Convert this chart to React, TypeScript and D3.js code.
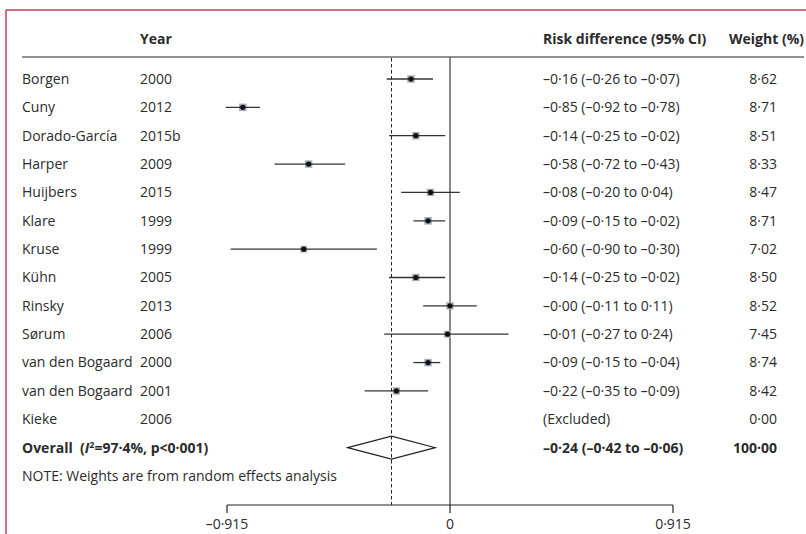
import React from "react";
import * as d3 from "d3";

const studies = ["Borgen", "Cuny", "Dorado-García", "Harper", "Huijbers", "Klare", "Kruse", "Kühn", "Rinsky", "Sørum", "van den Bogaard", "van den Bogaard", "Kieke"];
const years = ["2000", "2012", "2015b", "2009", "2015", "1999", "1999", "2005", "2013", "2006", "2000", "2001", "2006"];
const estimates: (number | null)[] = [-0.16, -0.85, -0.14, -0.58, -0.08, -0.09, -0.6, -0.14, -0.0, -0.01, -0.09, -0.22, null];
const lowers: (number | null)[] = [-0.26, -0.92, -0.25, -0.72, -0.2, -0.15, -0.9, -0.25, -0.11, -0.27, -0.15, -0.35, null];
const uppers: (number | null)[] = [-0.07, -0.78, -0.02, -0.43, 0.04, -0.02, -0.3, -0.02, 0.11, 0.24, -0.04, -0.09, null];
const ciLabels = ["–0·16 (–0·26 to –0·07)", "–0·85 (–0·92 to –0·78)", "–0·14 (–0·25 to –0·02)", "–0·58 (–0·72 to –0·43)", "–0·08 (–0·20 to 0·04)", "–0·09 (–0·15 to –0·02)", "–0·60 (–0·90 to –0·30)", "–0·14 (–0·25 to –0·02)", "–0·00 (–0·11 to 0·11)", "–0·01 (–0·27 to 0·24)", "–0·09 (–0·15 to –0·04)", "–0·22 (–0·35 to –0·09)", "(Excluded)"];
const weights = [8.62, 8.71, 8.51, 8.33, 8.47, 8.71, 7.02, 8.5, 8.52, 7.45, 8.74, 8.42, 0.0];
const weightLabels = ["8·62", "8·71", "8·51", "8·33", "8·47", "8·71", "7·02", "8·50", "8·52", "7·45", "8·74", "8·42", "0·00"];
const overall = { est: -0.24, lo: -0.42, hi: -0.06, label: "–0·24 (–0·42 to –0·06)", weight: "100·00" };
const tickValues = [-0.915, 0, 0.915];
const tickLabels = ["–0·915", "0", "0·915"];

const FONT = "'Open Sans', sans-serif";
const TEXT = "#2b2b2b";
const FS = 14;

export default function App() {
  const W = 806, H = 534;
  const x = d3.scaleLinear().domain([-0.915, 0.915]).range([227, 673]);
  const nRows = studies.length + 2; // studies + overall + note
  const y = d3.scalePoint<number>().domain(d3.range(nRows)).range([79, 476]);
  const sq = d3.scaleSqrt().domain([0, 8.74]).range([0, 7.5]);
  const axisY = 505;
  const headerLineY = 57;
  const overallRow = studies.length;
  const noteRow = studies.length + 1;
  const yo = y(overallRow)!;
  const diamond = d3.line()([
    [x(overall.lo), yo],
    [x(overall.est), yo - 11.5],
    [x(overall.hi), yo],
    [x(overall.est), yo + 11.5],
  ]) + "Z";

  return (
    <svg width={W} height={H} style={{ position: "absolute", left: 0, top: 0, background: "#fff" }} fontFamily={FONT}>
      {/* frame */}
      <line x1={6} x2={806} y1={10} y2={10} stroke="#c8385f" strokeWidth={1.5} />
      <line x1={6} x2={6} y1={10} y2={534} stroke="#c8385f" strokeWidth={1.5} />

      {/* headers */}
      <g fontWeight="bold" fontSize={FS} fill={TEXT}>
        <text x={140} y={44}>Year</text>
        <text x={543} y={44}>Risk difference (95% CI)</text>
        <text x={804} y={44} textAnchor="end">Weight (%)</text>
      </g>
      <line x1={22} x2={804} y1={headerLineY} y2={headerLineY} stroke="#222" strokeWidth={1.2} />

      {/* reference lines */}
      <line x1={x(0)} x2={x(0)} y1={headerLineY} y2={axisY} stroke="#555" strokeWidth={1.4} />
      <line x1={x(overall.est)} x2={x(overall.est)} y1={headerLineY + 1} y2={axisY} stroke="#222" strokeWidth={1} strokeDasharray="3.5,2.5" />

      {/* rows */}
      {studies.map((s, i) => {
        const cy = y(i)!;
        const est = estimates[i];
        const lo = lowers[i];
        const hi = uppers[i];
        const side = sq(weights[i]);
        return (
          <g key={i}>
            <text x={22} y={cy} dy="0.35em" fontSize={FS} fill={TEXT}>{s}</text>
            <text x={140} y={cy} dy="0.35em" fontSize={FS} fill={TEXT}>{years[i]}</text>
            <text x={543} y={cy} dy="0.35em" fontSize={FS} fill={TEXT}>{ciLabels[i]}</text>
            <text x={777} y={cy} dy="0.35em" fontSize={FS} fill={TEXT} textAnchor="end">{weightLabels[i]}</text>
            {est !== null && lo !== null && hi !== null && (
              <g>
                <rect x={x(est) - side / 2} y={cy - side / 2} width={side} height={side} fill="#a3acb6" />
                <line x1={x(lo)} x2={x(hi)} y1={cy} y2={cy} stroke="#333" strokeWidth={1.3} />
                <circle cx={x(est)} cy={cy} r={2.6} fill="#111" />
              </g>
            )}
          </g>
        );
      })}

      {/* overall */}
      <text x={22} y={yo + FS * 0.35} fontSize={FS} fontWeight="bold" fill={TEXT}>
        {"Overall\u00a0\u00a0("}<tspan fontStyle="italic">I</tspan><tspan fontSize={9} dy={-5}>2</tspan><tspan dy={5}>=97·4%, p&lt;0·001)</tspan>
      </text>
      <path d={diamond} fill="none" stroke="#222" strokeWidth={1.1} />
      <text x={543} y={yo} dy="0.35em" fontSize={FS} fontWeight="bold" fill={TEXT}>{overall.label}</text>
      <text x={777} y={yo} dy="0.35em" fontSize={FS} fontWeight="bold" fill={TEXT} textAnchor="end">{overall.weight}</text>

      {/* note */}
      <text x={22} y={y(noteRow)!} dy="0.35em" fontSize={FS} fill={TEXT}>NOTE: Weights are from random effects analysis</text>

      {/* axis */}
      <line x1={x(-0.915)} x2={x(0.915)} y1={axisY} y2={axisY} stroke="#222" strokeWidth={1.2} />
      {tickValues.map((t, i) => (
        <g key={i}>
          <line x1={x(t)} x2={x(t)} y1={axisY} y2={axisY + 8} stroke="#222" strokeWidth={1.2} />
          <text x={x(t)} y={529} textAnchor="middle" fontSize={FS} fill={TEXT}>{tickLabels[i]}</text>
        </g>
      ))}
    </svg>
  );
}
